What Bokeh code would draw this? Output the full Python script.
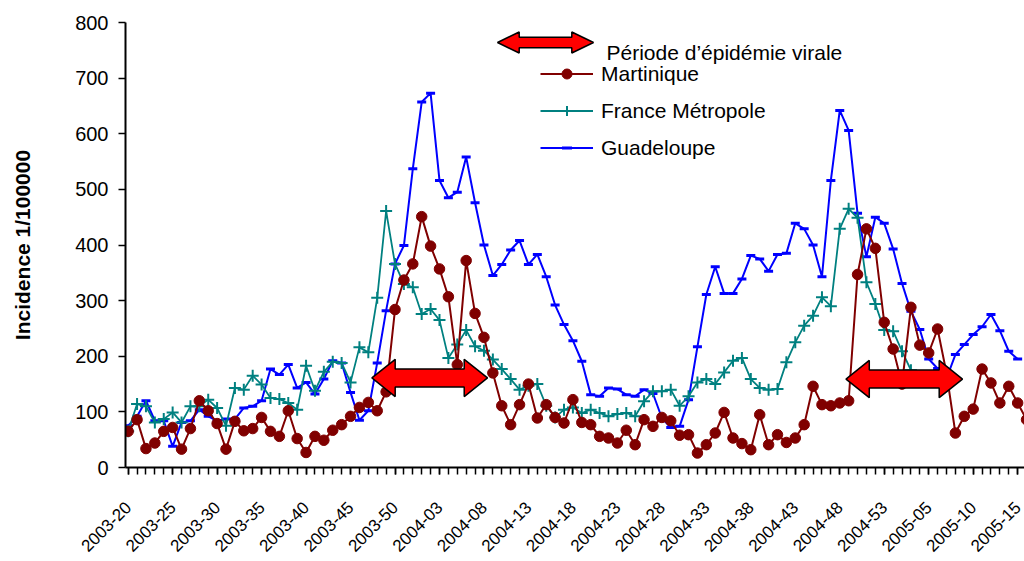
import math
from bokeh.plotting import figure
from bokeh.models import (FixedTicker, Legend, LegendItem, PolyAnnotation, Label, Range1d)
from bokeh.embed import file_html
from bokeh.resources import INLINE

# x tick labels (one every 5 weeks, starting at week 2003-20)
tick_labels = ["2003-20", "2003-25", "2003-30", "2003-35", "2003-40", "2003-45",
               "2003-50", "2004-03", "2004-08", "2004-13", "2004-18", "2004-23",
               "2004-28", "2004-33", "2004-38", "2004-43", "2004-48", "2004-53",
               "2005-05", "2005-10", "2005-15"]

# weekly incidence per 100000 (week index 0 = 2003-20)
martinique = [65, 86, 34, 44, 65, 72, 33, 70, 120, 102,
              79, 33, 83, 66, 70, 90, 65, 56, 102, 52,
              27, 56, 49, 67, 77, 92, 108, 117, 102, 136,
              284, 337, 366, 451, 398, 357, 307, 185, 372, 277,
              234, 170, 111, 77, 113, 150, 89, 113, 90, 80,
              122, 81, 77, 56, 53, 44, 67, 41, 86, 74,
              90, 84, 58, 59, 26, 41, 62, 99, 53, 43,
              32, 95, 41, 59, 45, 53, 77, 146, 113, 111,
              116, 120, 347, 429, 394, 261, 213, 150, 288, 220,
              206, 249, 170, 62, 92, 105, 177, 152, 116, 146,
              116, 86]

france = [65, 114, 110, 81, 87, 99, 81, 110, 110, 122,
          107, 75, 143, 140, 165, 149, 125, 123, 116, 104,
          183, 138, 172, 190, 188, 153, 216, 207, 305, 461,
          366, 330, 324, 276, 285, 265, 197, 221, 247, 218,
          210, 194, 177, 159, 140, 147, 150, 111, 90, 104,
          108, 98, 104, 98, 92, 96, 98, 92, 119, 137,
          137, 140, 111, 128, 153, 159, 150, 171, 192, 197,
          159, 143, 140, 141, 189, 225, 255, 273, 306, 290,
          429, 465, 449, 333, 294, 247, 245, 209, 175]

guadeloupe = [75, 92, 120, 84, 84, 38, 81, 84, 104, 92,
              84, 87, 87, 107, 110, 120, 177, 167, 185, 143,
              153, 132, 159, 192, 188, 135, 85, 102, 188, 282,
              366, 399, 537, 657, 673, 516, 485, 495, 558, 476,
              400, 345, 365, 391, 408, 365, 383, 343, 292, 257,
              228, 191, 131, 128, 143, 141, 131, 128, 140, 133,
              89, 72, 74, 122, 217, 311, 361, 313, 313, 339,
              381, 375, 353, 383, 385, 439, 429, 400, 343, 516,
              642, 606, 457, 379, 450, 439, 393, 331, 281, 248,
              195, 178, 160, 203, 221, 239, 253, 275, 246, 209,
              195]

# viral epidemic periods (week index) and drawing level
epidemic_start = [27.4, 80.7]
epidemic_end = [40.4, 93.8]
epidemic_level = [161, 159]

FONT = "Liberation Sans"
MAROON = "#800000"
TEAL = "#008080"
BLUE = "#0000FF"


def arrow_shape(x0, x1, yc, head_len, head_h, body_h):
    xs = [x0, x0 + head_len, x0 + head_len, x1 - head_len, x1 - head_len, x1,
          x1 - head_len, x1 - head_len, x0 + head_len, x0 + head_len]
    ys = [yc, yc + head_h, yc + body_h, yc + body_h, yc + head_h, yc,
          yc - head_h, yc - body_h, yc - body_h, yc - head_h]
    return xs, ys


p = figure(width=1024, height=561, output_backend="svg", toolbar_location=None,
           x_range=Range1d(-0.3, 100.77), y_range=Range1d(0, 800),
           min_border_left=125, min_border_right=0, min_border_top=22,
           min_border_bottom=94)
p.outline_line_color = None
p.grid.visible = False
p.background_fill_color = "white"

wm = list(range(len(martinique)))
wf = list(range(len(france)))
wg = list(range(len(guadeloupe)))

lg = p.line(wg, guadeloupe, line_color=BLUE, line_width=2)
sg = p.scatter(wg, guadeloupe, marker="dash", size=9, line_color=BLUE, line_width=3)
lf = p.line(wf, france, line_color=TEAL, line_width=1.8)
sf = p.scatter(wf, france, marker="cross", size=12, line_color=TEAL, line_width=2)
lm = p.line(wm, martinique, line_color=MAROON, line_width=2)
sm = p.scatter(wm, martinique, marker="circle", size=10.5, fill_color=MAROON,
               line_color=MAROON)

axs, ays = [], []
for a, b, lvl in zip(epidemic_start, epidemic_end, epidemic_level):
    xs, ys = arrow_shape(a, b, lvl, 2.62, 33.5, 16.2)
    axs.append(xs)
    ays.append(ys)
p.patches(axs, ays, fill_color="#FF0000", line_color="black", line_width=1.5)

# axes
xa = p.xaxis[0]
xa.ticker = FixedTicker(ticks=[5 * k for k in range(len(tick_labels))],
                        minor_ticks=list(range(0, 102)))
xa.major_label_overrides = {5 * k: lab for k, lab in enumerate(tick_labels)}
xa.major_label_orientation = math.pi / 4
xa.major_tick_out = 7
xa.major_tick_in = 0
xa.minor_tick_out = 7
xa.minor_tick_in = 0
xa.axis_line_width = 2
xa.axis_line_color = "black"
xa.major_tick_line_color = "black"
xa.minor_tick_line_color = "black"
xa.major_tick_line_width = 1.5
xa.minor_tick_line_width = 1.5
xa.major_label_text_font = FONT
xa.major_label_text_font_size = "17px"
xa.major_label_text_color = "black"
xa.major_label_standoff = 30

ya = p.yaxis[0]
ya.ticker = FixedTicker(ticks=list(range(0, 801, 100)))
ya.major_tick_out = 7
ya.major_tick_in = 0
ya.minor_tick_line_color = None
ya.axis_line_width = 2
ya.axis_line_color = "black"
ya.major_tick_line_color = "black"
ya.major_tick_line_width = 1.5
ya.major_label_text_font = FONT
ya.major_label_text_font_size = "20px"
ya.major_label_text_color = "black"
ya.major_label_standoff = 10
ya.axis_label = "Incidence 1/100000"
ya.axis_label_text_font = FONT
ya.axis_label_text_font_style = "bold"
ya.axis_label_text_font_size = "21px"
ya.axis_label_text_color = "black"
ya.axis_label_standoff = 38

# legend
legend = Legend(items=[LegendItem(label="Martinique", renderers=[lm, sm]),
                       LegendItem(label="France Métropole", renderers=[lf, sf]),
                       LegendItem(label="Guadeloupe", renderers=[lg, sg])],
                location=(415, 307), glyph_width=53, glyph_height=25,
                label_height=25, spacing=12, padding=0, margin=0,
                label_standoff=8, border_line_color=None,
                background_fill_alpha=0, label_text_font=FONT,
                label_text_font_size="21px", label_text_color="black")
p.add_layout(legend)

lxs, lys = arrow_shape(372, 468, 425, 21.7, 10.5, 5.3)
p.add_layout(PolyAnnotation(xs=lxs, ys=lys, xs_units="screen", ys_units="screen",
                            fill_color="#FF0000", fill_alpha=1.0,
                            line_color="black", line_alpha=1.0, line_width=1.5))
p.add_layout(Label(x=481, y=415, x_units="screen", y_units="screen",
                   text="Période d’épidémie virale", text_font=FONT,
                   text_font_size="21px", text_color="black",
                   text_baseline="alphabetic"))

open("out.html", "w").write(file_html(p, INLINE))
